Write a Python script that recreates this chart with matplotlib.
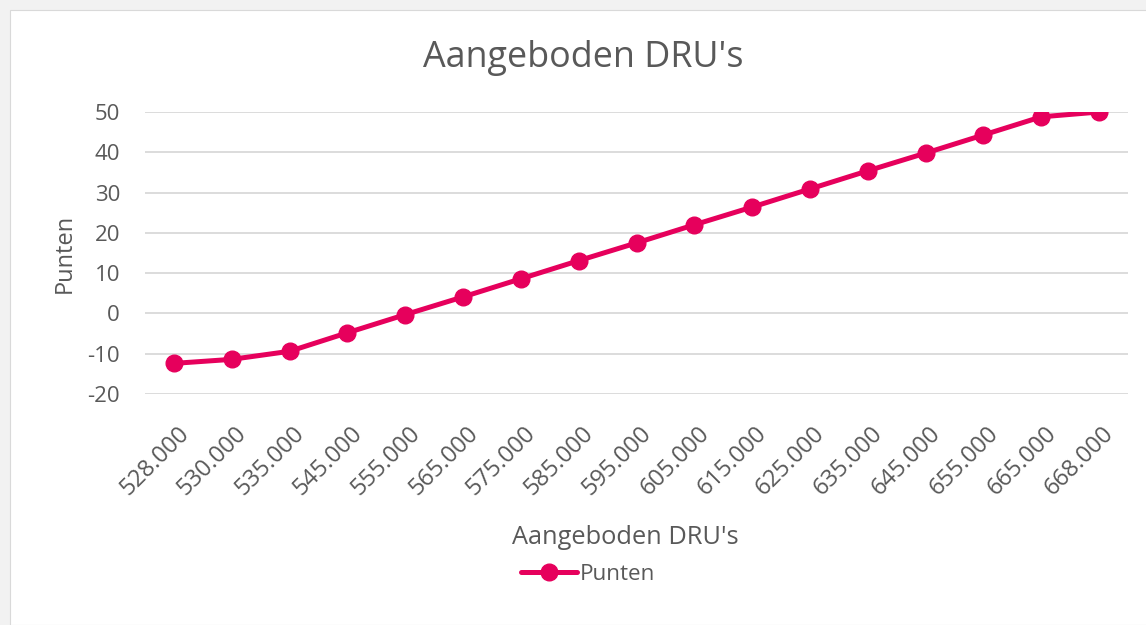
import matplotlib.pyplot as plt
import matplotlib.transforms as mtransforms
from matplotlib.patches import Rectangle

categories = ['528.000', '530.000', '535.000', '545.000', '555.000', '565.000',
              '575.000', '585.000', '595.000', '605.000', '615.000', '625.000',
              '635.000', '645.000', '655.000', '665.000', '668.000']
punten = [-12.4, -11.4, -9.4, -4.8, -0.3, 4.1, 8.6, 13.1, 17.5, 22.0,
          26.4, 30.9, 35.4, 39.8, 44.3, 48.8, 50.0]
y_ticks = [-20, -10, 0, 10, 20, 30, 40, 50]

LINE = '#E6005C'
TEXT = '#595959'


def main():
    plt.rcParams['font.family'] = ['Open Sans', 'DejaVu Sans']
    plt.rcParams['axes.unicode_minus'] = False
    fig = plt.figure(figsize=(11.46, 6.25), dpi=100, facecolor='#f2f2f2')
    fig.patches.append(Rectangle((10 / 1146, 0), 1, 1 - 10 / 625,
                                 transform=fig.transFigure, facecolor='white',
                                 edgecolor='#d9d9d9', lw=0.8, zorder=-5))

    ax = fig.add_axes([145 / 1146, 1 - 394 / 625, 983 / 1146, 282 / 625])
    ax.set_facecolor('none')
    x = list(range(len(categories)))
    ax.plot(x, punten, color=LINE, lw=3.6, marker='o', markersize=12,
            label='Punten', solid_capstyle='round', zorder=3)

    ax.set_xlim(-0.5, len(categories) - 0.5)
    ax.set_ylim(-20, 50)
    ax.set_yticks(y_ticks)
    ax.set_xticks(x)
    ax.set_xticklabels(categories, rotation=45, ha='right',
                       rotation_mode='anchor')
    ax.tick_params(length=0, labelsize=16, colors=TEXT)
    ax.tick_params(axis='x', labelsize=17, pad=20)
    ax.tick_params(axis='y', pad=18)
    shift = mtransforms.ScaledTranslation(3 / 100, 0, fig.dpi_scale_trans)
    for lab in ax.get_xticklabels():
        lab.set_transform(lab.get_transform() + shift)
    ax.grid(axis='y', color='#d9d9d9', lw=1.3)
    for s in ax.spines.values():
        s.set_visible(False)

    ax.set_ylabel('Punten', fontsize=17, color=TEXT, labelpad=8)

    fig.text(583 / 1146, 1 - 58 / 625, "Aangeboden DRU's", ha='center',
             va='center', fontsize=25.8, color=TEXT)
    fig.text(625 / 1146, 1 - 538 / 625, "Aangeboden DRU's", ha='center',
             va='center', fontsize=18.3, color=TEXT)
    fig.legend(loc='center', bbox_to_anchor=(588 / 1146, 1 - 574 / 625),
               frameon=False, fontsize=16.2, labelcolor=TEXT,
               handlelength=2.5, handletextpad=0.15)

    plt.savefig('out.png', dpi=100, facecolor=fig.get_facecolor())


if __name__ == '__main__':
    main()
